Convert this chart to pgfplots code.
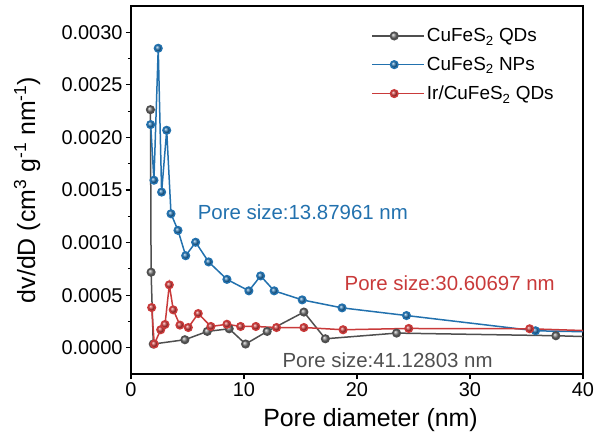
\documentclass[border=0pt]{standalone}
\usepackage{fontspec}
\setmainfont{Liberation Sans}
\usepackage{pgfplots}
\pgfplotsset{compat=1.18}
\definecolor{cgray}{HTML}{4F4F4F}
\definecolor{cgrayb}{HTML}{808080}
\definecolor{cblue}{HTML}{2271AE}
\definecolor{cred}{HTML}{C93A3A}

\begin{document}
\begin{tikzpicture}
\begin{axis}[
  scale only axis,
  width=452bp, height=368bp,
  xmin=0, xmax=40,
  ymin=-0.00025, ymax=0.00325,
  xtick={0,10,20,30,40},
  ytick={0,0.0005,0.001,0.0015,0.002,0.0025,0.003},
  minor y tick num=1,
  xtick pos=lower, ytick pos=left,
  tick align=outside,
  major tick length=5bp, minor tick length=3bp,
  axis line style={line width=1.3bp},
  every tick/.style={black, line width=1.1bp},
  scaled y ticks=false,
  yticklabel style={/pgf/number format/fixed, /pgf/number format/fixed zerofill, /pgf/number format/precision=4},
  /pgf/number format/assume math mode=true,
  tick label style={font=\fontsize{20}{24}\selectfont},
  xlabel={Pore diameter (nm)},
  ylabel={dv/dD (cm\textsuperscript{3} g\textsuperscript{-1} nm\textsuperscript{-1})},
  label style={font=\fontsize{25}{30}\selectfont},
  xlabel style={at={(axis description cs:0.53,-0.125)}, anchor=center},
  ylabel style={at={(axis description cs:-0.23,0.5)}, anchor=center},
  legend style={at={(0.525,0.95)}, anchor=north west, draw=none, fill=none,
    font=\fontsize{19}{23}\selectfont, row sep=10bp},
  legend cell align=left,
  legend image code/.code={\path (0bp,0bp) -- (52bp,0bp);
    \draw[#1, line width=1.5bp, mark repeat=2, mark phase=2] plot coordinates {(0bp,0bp) (22bp,0bp) (44bp,0bp)};},
  every axis plot/.append style={line width=1.5bp, mark=ball, mark size=3.8pt},
]
\addplot[color=cgray, mark options={ball color=cgrayb}] coordinates {
(1.72,0.002264) (1.78,0.000718) (1.97,0.000035) (4.77,0.000076) (6.75,0.000155)
(8.69,0.000180) (10.14,0.000035) (12.05,0.000155) (15.30,0.000339) (17.20,0.000085)
(23.50,0.000139) (37.60,0.000114) (41.0,0.000103)
};
\addlegendentry{CuFeS\textsubscript{2} QDs}
\addplot[color=cblue, mark options={ball color=cblue}] coordinates {
(1.74,0.002122) (2.03,0.001593) (2.41,0.002848) (2.71,0.001480) (3.16,0.002068)
(3.54,0.001274) (4.16,0.001116) (4.84,0.000875) (5.72,0.001003) (6.87,0.000816)
(8.49,0.000650) (10.43,0.000541) (11.47,0.000683) (12.67,0.000541) (15.15,0.000455)
(18.68,0.000379) (24.38,0.000306) (35.80,0.000161) (41.0,0.000150)
};
\addlegendentry{CuFeS\textsubscript{2} NPs}
\addplot[color=cred, mark options={ball color=cred}] coordinates {
(1.83,0.000382) (2.06,0.000035) (2.63,0.000171) (3.01,0.000221) (3.39,0.000598)
(3.74,0.000360) (4.33,0.000215) (5.07,0.000192) (5.95,0.000325) (7.07,0.000202)
(8.49,0.000223) (9.70,0.000202) (11.05,0.000202) (12.88,0.000192) (15.30,0.000192)
(18.77,0.000171) (24.58,0.000183) (35.28,0.000180) (41.0,0.000160)
};
\addlegendentry{Ir/CuFeS\textsubscript{2} QDs}
\node[anchor=west, text=cblue, font=\fontsize{20.5}{24}\selectfont] at (axis cs:5.6,0.00129) {Pore size:13.87961 nm};
\node[anchor=west, text=cred, font=\fontsize{20.5}{24}\selectfont] at (axis cs:18.6,0.000614) {Pore size:30.60697 nm};
\node[anchor=west, text=cgray, font=\fontsize{20.5}{24}\selectfont] at (axis cs:13.1,-0.000114) {Pore size:41.12803 nm};
\end{axis}
\pgfresetboundingbox
\useasboundingbox (-131bp,-65bp) rectangle (464bp,374bp);
\end{tikzpicture}
\end{document}
